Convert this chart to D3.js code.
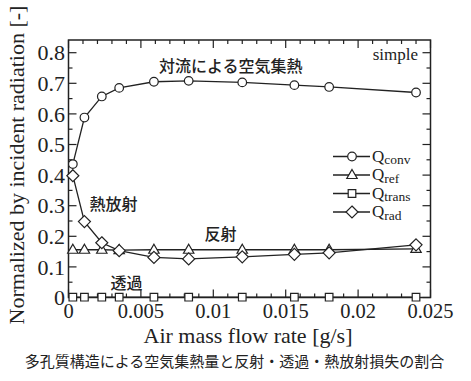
<!DOCTYPE html>
<html><head><meta charset="utf-8">
<script src="https://cdn.jsdelivr.net/npm/d3@7"></script>
<style>body{margin:0;background:#fff;} svg{display:block;}</style>
</head><body>
<script>
const flow  = [0.0003, 0.0011, 0.0023, 0.0035, 0.0059, 0.0083, 0.0120, 0.0156, 0.0180, 0.0240];
const qConv = [0.436, 0.588, 0.657, 0.685, 0.705, 0.708, 0.703, 0.694, 0.688, 0.670];
const qRef  = [0.156, 0.156, 0.156, 0.155, 0.156, 0.156, 0.156, 0.156, 0.156, 0.159];
const qTrans= [0.001, 0.001, 0.001, 0.001, 0.001, 0.001, 0.001, 0.001, 0.001, 0.001];
const qRad  = [0.398, 0.248, 0.179, 0.153, 0.131, 0.126, 0.133, 0.141, 0.146, 0.172];
const xTicks = [0, 0.005, 0.01, 0.015, 0.02, 0.025];
const yTicks = [0, 0.1, 0.2, 0.3, 0.4, 0.5, 0.6, 0.7, 0.8];
const seriesNames = ["conv", "ref", "trans", "rad"];
const seriesMarkers = ["circle", "triangle", "square", "diamond"];
const annotations = [
  {text: "対流による空気集熱", x: 0.0112, y: 0.754},
  {text: "熱放射", x: 0.0031, y: 0.305},
  {text: "反射", x: 0.0105, y: 0.205},
  {text: "透過", x: 0.0040, y: 0.047}
];
const xTitle = "Air mass flow rate [g/s]";
const yTitle = "Normalized by incident radiation [-]";
const caption = "多孔質構造による空気集熱量と反射・透過・熱放射損失の割合";

const W = 471, H = 381;
const L = 68.5, R = 430.5, T = 40, B = 297.5;
const svg = d3.select("body").append("svg").attr("width", W).attr("height", H);
const x = d3.scaleLinear().domain([0, 0.025]).range([L, R]);
const y = d3.scaleLinear().domain([0, 0.8415]).range([B, T]);
const serif = "Liberation Serif";
const jp = "Noto Sans CJK JP";

// ticks (inward, mirrored)
const xMinor = d3.range(0, 0.02501, 0.001);
const yMinor = d3.range(0, 0.8401, 0.05);
const tickG = svg.append("g").attr("stroke", "#222").attr("stroke-width", 1.2);
xMinor.forEach((v, i) => {
  const major = i % 5 === 0;
  const len = major ? 8 : 4;
  const px = x(v);
  tickG.append("line").attr("x1", px).attr("x2", px).attr("y1", B).attr("y2", B - len);
  tickG.append("line").attr("x1", px).attr("x2", px).attr("y1", T).attr("y2", T + len);
});
yMinor.forEach((v, i) => {
  const major = i % 2 === 0;
  const len = major ? 8 : 4;
  const py = y(v);
  tickG.append("line").attr("x1", L).attr("x2", L + len).attr("y1", py).attr("y2", py);
  tickG.append("line").attr("x1", R).attr("x2", R - len).attr("y1", py).attr("y2", py);
});
svg.append("rect").attr("x", L).attr("y", T).attr("width", R - L).attr("height", B - T)
  .attr("fill", "none").attr("stroke", "#222").attr("stroke-width", 1.5);

// tick labels
svg.append("g").selectAll("text").data(xTicks).join("text")
  .attr("x", d => x(d)).attr("y", 318).attr("text-anchor", "middle")
  .attr("font-family", serif).attr("font-size", 20.5).attr("fill", "#222")
  .text(d => d === 0 ? "0" : String(+d.toFixed(3)));
svg.append("g").selectAll("text").data(yTicks).join("text")
  .attr("x", 65).attr("y", d => y(d)).attr("dy", "0.35em").attr("text-anchor", "end")
  .attr("font-family", serif).attr("font-size", 22).attr("fill", "#222")
  .text(d => d === 0 ? "0" : d.toFixed(1));

// axis titles
svg.append("text").attr("x", 248).attr("y", 343).attr("text-anchor", "middle")
  .attr("font-family", serif).attr("font-size", 22).attr("fill", "#222").text(xTitle);
svg.append("text").attr("transform", "translate(24,165) rotate(-90)").attr("text-anchor", "middle")
  .attr("font-family", serif).attr("font-size", 22).attr("fill", "#222").text(yTitle);
svg.append("text").attr("x", 234.5).attr("y", 367).attr("text-anchor", "middle")
  .attr("font-family", jp).attr("font-size", 15).attr("fill", "#222").text(caption);

// marker path
function marker(type) {
  switch (type) {
    case "circle": return "M-4.3,0a4.3,4.3 0 1,0 8.6,0a4.3,4.3 0 1,0 -8.6,0Z";
    case "triangle": return "M0,-5.5L5.2,3.5L-5.2,3.5Z";
    case "square": return "M-3.8,-3.8H3.8V3.8H-3.8Z";
    case "diamond": return "M0,-6L6,0L0,6L-6,0Z";
  }
}
const allSeries = [qConv, qRef, qTrans, qRad];
const line = d3.line().x(d => x(d[0])).y(d => y(d[1]));
allSeries.forEach(vals => {
  const pts = flow.map((f, i) => [f, vals[i]]);
  svg.append("path").attr("d", line(pts)).attr("fill", "none").attr("stroke", "#222").attr("stroke-width", 1.3);
});
allSeries.forEach((vals, si) => {
  svg.append("g").selectAll("path").data(flow.map((f, i) => [f, vals[i]])).join("path")
    .attr("transform", d => `translate(${x(d[0])},${y(d[1])})`)
    .attr("d", marker(seriesMarkers[si]))
    .attr("fill", "#fff").attr("stroke", "#222").attr("stroke-width", 1.2);
});

// annotations
svg.append("g").selectAll("text").data(annotations).join("text")
  .attr("x", d => x(d.x)).attr("y", d => y(d.y)).attr("text-anchor", "middle").attr("dy", "0.35em")
  .attr("font-family", jp).attr("font-size", 16).attr("font-weight", 500).attr("fill", "#222")
  .text(d => d.text);
svg.append("text").attr("x", 418).attr("y", 60).attr("text-anchor", "end")
  .attr("font-family", serif).attr("font-size", 17).attr("fill", "#222").text("simple");

// legend
const legY = [156.5, 175, 193.5, 212];
seriesNames.forEach((n, i) => {
  const g = svg.append("g").attr("transform", `translate(0,${legY[i]})`);
  g.append("line").attr("x1", 333).attr("x2", 370).attr("stroke", "#222").attr("stroke-width", 1.3);
  g.append("path").attr("transform", "translate(352,0)").attr("d", marker(seriesMarkers[i]))
    .attr("fill", "#fff").attr("stroke", "#222").attr("stroke-width", 1.2);
  const t = g.append("text").attr("x", 372).attr("y", 5).attr("font-family", serif).attr("fill", "#222");
  t.append("tspan").attr("font-size", 17).text("Q");
  t.append("tspan").attr("font-size", 13.5).attr("dy", 2.5).text(n);
});
</script>
</body></html>
